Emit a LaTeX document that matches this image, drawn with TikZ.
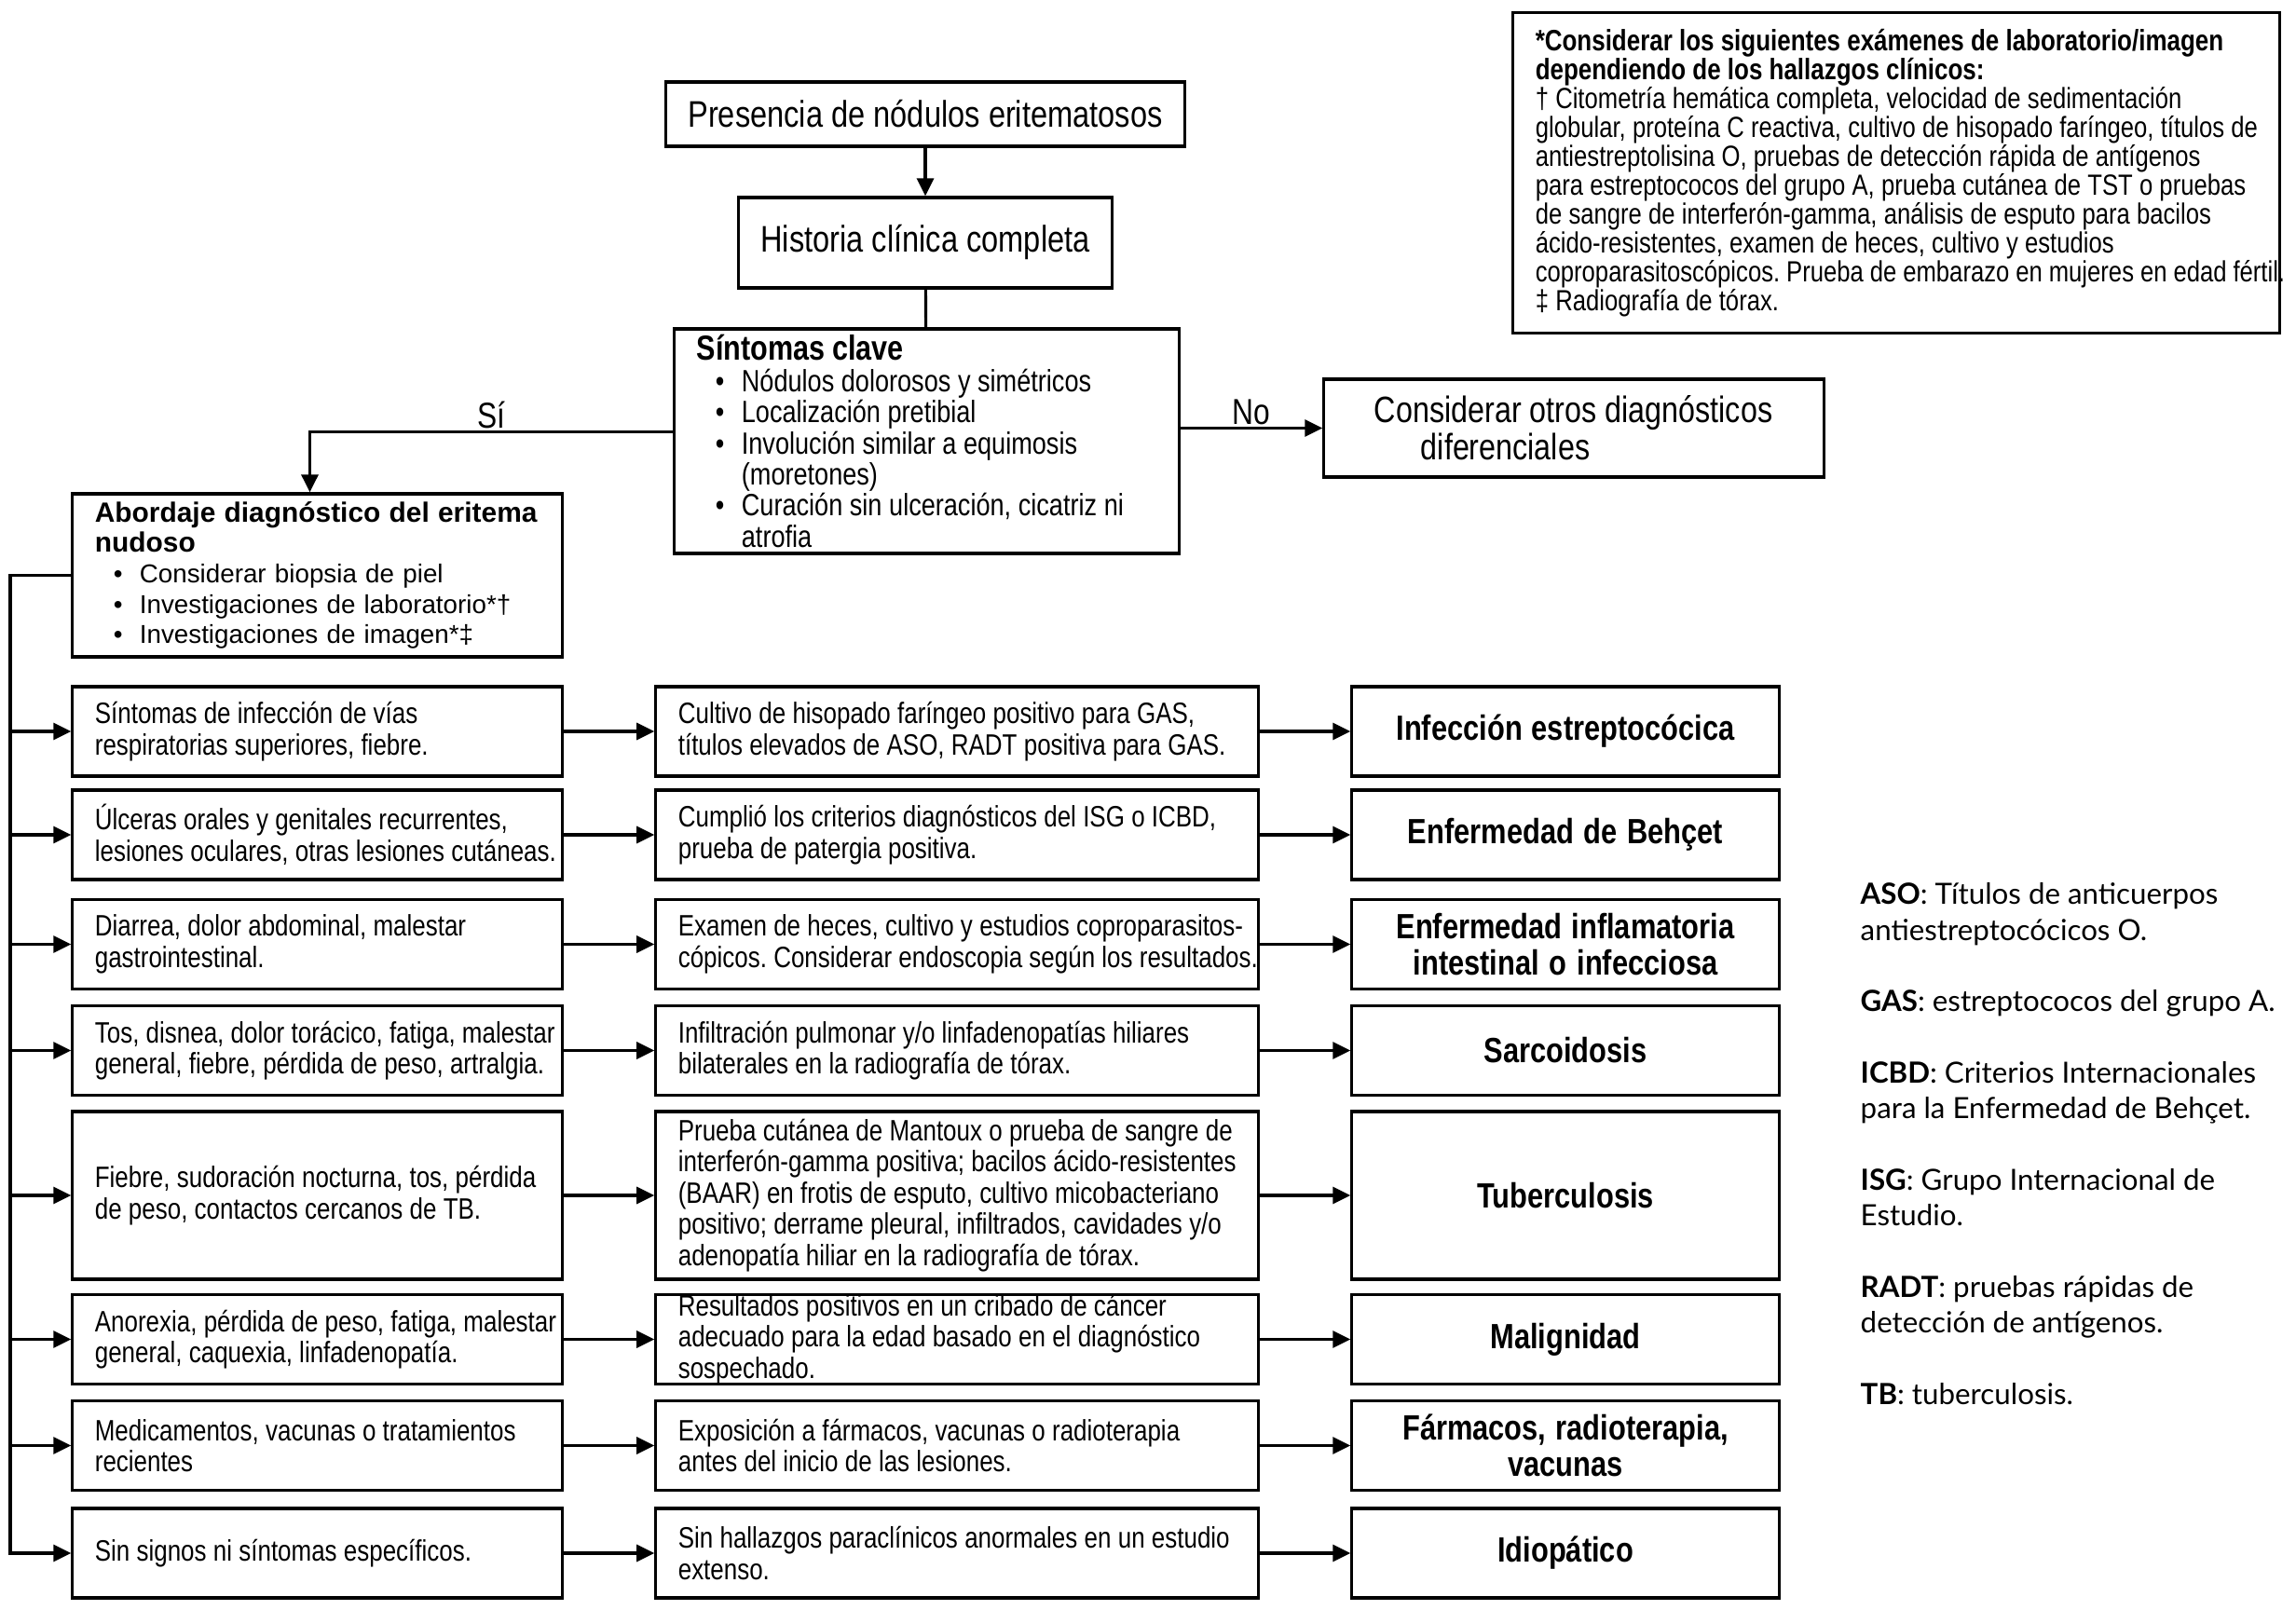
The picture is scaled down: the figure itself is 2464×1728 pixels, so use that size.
\documentclass[tikz,border=0pt]{standalone}
\usepackage{fontspec}
\setmainfont{Liberation Sans}[FakeStretch=0.82]
\newfontfamily\widefont{Liberation Sans}
\newfontfamily\abbrfont{Lato}
\usetikzlibrary{arrows.meta}

\newcommand{\bull}{\hspace*{0.2cm}\makebox[0.28cm][l]{\textbullet}}
\newcommand{\cont}{\hspace*{0.48cm}}
\newcommand{\tightsp}{\spaceskip=0.23em plus 0.1em minus 0.05em\relax}
\newcommand{\tight}{\tightsp\rightskip=-0.3cm plus 1fil\relax}

\begin{document}
\hyphenpenalty=10000 \exhyphenpenalty=10000 \frenchspacing
\begin{tikzpicture}[x=0.01cm, y=-0.01cm,
  box/.style={draw, line width=0.9pt, inner xsep=0.24cm, inner ysep=0.03cm},
  txt/.style={box, align=left, execute at begin node=\tight},
  symp/.style={txt, text width=4.77cm, minimum height=0.96cm, font=\fontsize{9}{9.5}\selectfont},
  test/.style={txt, text width=5.98cm, minimum height=0.96cm, font=\fontsize{9}{9.5}\selectfont},
  diag/.style={box, text width=4.10cm, align=center, minimum height=0.96cm, execute at begin node=\tightsp, font=\fontsize{10.7}{11.1}\selectfont\bfseries},
  lbl/.style={above=0pt, inner sep=0.5pt, font=\fontsize{11}{12}\selectfont, execute at begin node=\tightsp},
  arr/.style={line width=0.9pt, -{Triangle[length=0.19cm, width=0.18cm]}},
  link/.style={line width=0.9pt}]
\useasboundingbox (0,0) rectangle (2464,1728);

% parte superior
\node[box, minimum width=5.42cm, minimum height=0.69cm, execute at begin node=\tightsp, font=\fontsize{11.3}{11.5}\selectfont] (pres) at (993,122.5) {Presencia de nódulos eritematosos};
\node[box, minimum width=3.88cm, minimum height=0.97cm, execute at begin node=\tightsp, font=\fontsize{11.3}{12}\selectfont] (hist) at (993,260.5) {Historia clínica completa};
\node[txt, text width=4.93cm, minimum height=2.41cm, font=\fontsize{9.4}{9.5}\selectfont] (sint) at (994.5,473.5) {{\fontsize{10.6}{9.5}\selectfont\bfseries Síntomas clave}\\
\bull Nódulos dolorosos y simétricos\\
\bull Localización pretibial\\
\bull Involución similar a equimosis\\
\cont(moretones)\\
\bull Curación sin ulceración, cicatriz ni\\
\cont atrofia};
\node[txt, text width=4.88cm, minimum height=1.05cm, font=\fontsize{11.2}{10.4}\selectfont] (otros) at (1689,459.5) {\hspace*{0.3cm}Considerar otros diagnósticos\\\hspace*{0.8cm}diferenciales};
\node[txt, text width=7.74cm, minimum height=3.43cm, font=\fontsize{8.9}{8.8}\selectfont] (nota) at (2035,185.5) {{\bfseries\fontsize{9}{8.8}\selectfont *Considerar los siguientes exámenes de laboratorio/imagen\\dependiendo de los hallazgos clínicos:}\\
† Citometría hemática completa, velocidad de sedimentación\\
globular, proteína C reactiva, cultivo de hisopado faríngeo, títulos de\\
antiestreptolisina O, pruebas de detección rápida de antígenos\\
para estreptococos del grupo A, prueba cutánea de TST o pruebas\\
de sangre de interferón-gamma, análisis de esputo para bacilos\\
ácido-resistentes, examen de heces, cultivo y estudios\\
coproparasitoscópicos. Prueba de embarazo en mujeres en edad fértil.\\
‡ Radiografía de tórax.};
\node[box, text width=4.77cm, align=left, minimum height=1.75cm, font=\widefont\fontsize{7.9}{9.3}\selectfont] (abord) at (340.5,617.5) {{\bfseries\fontsize{8.5}{9.3}\selectfont Abordaje diagnóstico del eritema\\nudoso}\\
\bull Considerar biopsia de piel\\
\bull Investigaciones de laboratorio*†\\
\bull Investigaciones de imagen*‡};

\draw[arr] (pres) -- (hist);
\draw[link] (hist) -- (sint);
\draw[arr] ([yshift=0.1cm]sint.west) -| ([xshift=-0.08cm]abord.north) node[pos=0.25, lbl] {Sí};
\draw[arr] (sint.east |- otros.west) -- (otros.west) node[midway, lbl] {No};

% filas
\node[symp] (s1) at (340.5,785) {Síntomas de infección de vías\\respiratorias superiores, fiebre.};
\node[test] (p1) at (1027,785) {Cultivo de hisopado faríngeo positivo para GAS,\\títulos elevados de ASO, RADT positiva para GAS.};
\node[diag] (d1) at (1680,785) {Infección estreptocócica};

\node[symp] (s2) at (340.5,896) {Úlceras orales y genitales recurrentes,\\lesiones oculares, otras lesiones cutáneas.};
\node[test] (p2) at (1027,896) {Cumplió los criterios diagnósticos del ISG o ICBD,\\prueba de patergia positiva.};
\node[diag] (d2) at (1680,896) {Enfermedad de Behçet};

\node[symp] (s3) at (340.5,1013.5) {Diarrea, dolor abdominal, malestar\\gastrointestinal.};
\node[test] (p3) at (1027,1013.5) {Examen de heces, cultivo y estudios coproparasitos-\\cópicos. Considerar endoscopia según los resultados.};
\node[diag] (d3) at (1680,1013.5) {Enfermedad inflamatoria\\intestinal o infecciosa};

\node[symp] (s4) at (340.5,1127.5) {Tos, disnea, dolor torácico, fatiga, malestar\\general, fiebre, pérdida de peso, artralgia.};
\node[test] (p4) at (1027,1127.5) {Infiltración pulmonar y/o linfadenopatías hiliares\\bilaterales en la radiografía de tórax.};
\node[diag] (d4) at (1680,1127.5) {Sarcoidosis};

\node[symp, minimum height=1.80cm] (s5) at (340.5,1283) {Fiebre, sudoración nocturna, tos, pérdida\\de peso, contactos cercanos de TB.};
\node[test, minimum height=1.80cm] (p5) at (1027,1283) {Prueba cutánea de Mantoux o prueba de sangre de\\interferón-gamma positiva; bacilos ácido-resistentes\\(BAAR) en frotis de esputo, cultivo micobacteriano\\positivo; derrame pleural, infiltrados, cavidades y/o\\adenopatía hiliar en la radiografía de tórax.};
\node[diag, minimum height=1.80cm] (d5) at (1680,1283) {Tuberculosis};

\node[symp] (s6) at (340.5,1437.5) {Anorexia, pérdida de peso, fatiga, malestar\\general, caquexia, linfadenopatía.};
\node[test, inner ysep=0pt] (p6) at (1027,1437.5) {Resultados positivos en un cribado de cáncer\\adecuado para la edad basado en el diagnóstico\\sospechado.};
\node[diag] (d6) at (1680,1437.5) {Malignidad};

\node[symp] (s7) at (340.5,1551.5) {Medicamentos, vacunas o tratamientos\\recientes};
\node[test] (p7) at (1027,1551.5) {Exposición a fármacos, vacunas o radioterapia\\antes del inicio de las lesiones.};
\node[diag] (d7) at (1680,1551.5) {Fármacos, radioterapia,\\vacunas};

\node[symp] (s8) at (340.5,1667) {Sin signos ni síntomas específicos.};
\node[test] (p8) at (1027,1667) {Sin hallazgos paraclínicos anormales en un estudio\\extenso.};
\node[diag] (d8) at (1680,1667) {Idiopático};

% tronco a la izquierda
\coordinate (trunk) at (11,617.5);
\draw[arr] (abord.west) -- (trunk) |- (s8.west);
\draw[arr] (trunk |- s1.west) -- (s1.west);
\draw[arr] (trunk |- s2.west) -- (s2.west);
\draw[arr] (trunk |- s3.west) -- (s3.west);
\draw[arr] (trunk |- s4.west) -- (s4.west);
\draw[arr] (trunk |- s5.west) -- (s5.west);
\draw[arr] (trunk |- s6.west) -- (s6.west);
\draw[arr] (trunk |- s7.west) -- (s7.west);

\draw[arr] (s1) -- (p1);
\draw[arr] (p1) -- (d1);
\draw[arr] (s2) -- (p2);
\draw[arr] (p2) -- (d2);
\draw[arr] (s3) -- (p3);
\draw[arr] (p3) -- (d3);
\draw[arr] (s4) -- (p4);
\draw[arr] (p4) -- (d4);
\draw[arr] (s5) -- (p5);
\draw[arr] (p5) -- (d5);
\draw[arr] (s6) -- (p6);
\draw[arr] (p6) -- (d6);
\draw[arr] (s7) -- (p7);
\draw[arr] (p7) -- (d7);
\draw[arr] (s8) -- (p8);
\draw[arr] (p8) -- (d8);

% abreviaturas
\node[anchor=north west, inner sep=0pt, align=left, font=\abbrfont\fontsize{8.9}{10.9}\selectfont] (abrev) at (1996,947) {\textbf{ASO}: Títulos de anticuerpos\\antiestreptocócicos O.\\[10.9pt]
\textbf{GAS}: estreptococos del grupo A.\\[10.9pt]
\textbf{ICBD}: Criterios Internacionales\\para la Enfermedad de Behçet.\\[10.9pt]
\textbf{ISG}: Grupo Internacional de\\Estudio.\\[10.9pt]
\textbf{RADT}: pruebas rápidas de\\detección de antígenos.\\[10.9pt]
\textbf{TB}: tuberculosis.};
\end{tikzpicture}
\end{document}
